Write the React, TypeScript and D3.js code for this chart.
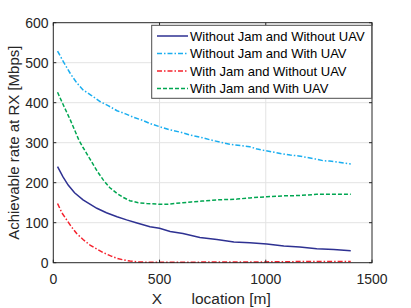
import React from "react";
import * as d3 from "d3";

const xTicks = [0, 500, 1000, 1500];
const yTicks = [0, 100, 200, 300, 400, 500, 600];

const seriesNames = [
  "Without Jam and Without UAV",
  "Without Jam and With UAV",
  "With Jam and Without UAV",
  "With Jam and With UAV",
];

const noJamNoUav: [number, number][] = [
  [20, 240], [45, 215], [70, 194], [100, 175], [140, 157], [205, 136], [250, 125], [300, 115],
  [345, 107], [390, 100], [455, 90], [500, 86], [550, 78], [610, 73], [690, 63], [770, 58],
  [850, 52], [925, 50], [1005, 47], [1085, 42], [1160, 39], [1240, 35], [1320, 33], [1400, 30],
];

const noJamUav: [number, number][] = [
  [20, 529], [50, 500], [80, 473], [110, 450], [140, 432], [180, 418], [220, 403], [260, 392],
  [300, 380], [340, 372], [380, 363], [420, 356], [455, 348], [500, 340], [550, 332], [600, 326],
  [645, 319], [690, 314], [740, 307], [790, 301], [830, 296], [880, 293], [925, 290], [960, 284],
  [1000, 280], [1040, 276], [1080, 272], [1115, 269], [1155, 267], [1195, 263], [1235, 259],
  [1270, 255], [1300, 254], [1335, 252], [1370, 249], [1400, 247],
];

const jamNoUav: [number, number][] = [
  [20, 148], [40, 125], [63, 107], [85, 90], [110, 73], [140, 58], [173, 44], [205, 34],
  [236, 25], [270, 17], [300, 11], [330, 7], [361, 4], [400, 2], [455, 1], [500, 1],
  [600, 1], [800, 2], [1000, 2], [1200, 3], [1400, 3],
];

const jamUav: [number, number][] = [
  [20, 426], [50, 391], [80, 357], [120, 307], [140, 288], [175, 257], [205, 230], [235, 207],
  [265, 188], [300, 173], [330, 163], [360, 155], [400, 150], [440, 148], [500, 146], [535, 146],
  [610, 150], [650, 152], [700, 154], [770, 157], [865, 159], [925, 162], [1005, 165],
  [1080, 167], [1160, 168], [1240, 171], [1320, 171], [1400, 171],
];

const seriesData = [noJamNoUav, noJamUav, jamNoUav, jamUav];
const seriesColors = ["#2e3192", "#1aaef0", "#f5222d", "#00a651"];
const seriesDash = ["none", "5,2,1.5,2", "5,2,1.5,2", "4,2"];

export default function App() {
  const left = 53.3, right = 372, top = 22.7, bottom = 262.7;
  const x = d3.scaleLinear().domain([0, 1500]).range([left, right]);
  const y = d3.scaleLinear().domain([0, 600]).range([bottom, top]);
  const line = d3.line<[number, number]>().x((d) => x(d[0])).y((d) => y(d[1]));
  const font = "'Liberation Sans', Arial, sans-serif";
  const axisColor = "#262626";

  const legX = 151.7, legY = 25.3, legW = 220, legH = 73;
  const rowY = [36, 53.5, 71, 88.5];

  return (
    <svg width={411} height={308} style={{ position: "absolute", left: 0, top: 0, background: "#fff" }} fontFamily={font}>
      <rect x={0} y={0} width={411} height={308} fill="#fff" />
      {xTicks.slice(1, -1).map((t) => (
        <line key={"gx" + t} x1={x(t)} x2={x(t)} y1={top} y2={bottom} stroke="#e3e3e3" strokeWidth={1} />
      ))}
      {yTicks.slice(1, -1).map((t) => (
        <line key={"gy" + t} x1={left} x2={right} y1={y(t)} y2={y(t)} stroke="#e3e3e3" strokeWidth={1} />
      ))}
      {seriesData.map((d, i) => (
        <path key={i} d={line(d) || ""} fill="none" stroke={seriesColors[i]} strokeWidth={1.5}
          strokeDasharray={seriesDash[i]} />
      ))}
      <rect x={left} y={top} width={right - left} height={bottom - top} fill="none" stroke={axisColor} strokeWidth={1} />
      {xTicks.map((t) => (
        <g key={"tx" + t}>
          <line x1={x(t)} x2={x(t)} y1={bottom} y2={bottom - 3} stroke={axisColor} />
          <line x1={x(t)} x2={x(t)} y1={top} y2={top + 3} stroke={axisColor} />
          <text x={x(t)} y={284} textAnchor="middle" fontSize={14} fill={axisColor}>{t}</text>
        </g>
      ))}
      {yTicks.map((t) => (
        <g key={"ty" + t}>
          <line x1={left} x2={left + 3} y1={y(t)} y2={y(t)} stroke={axisColor} />
          <line x1={right} x2={right - 3} y1={y(t)} y2={y(t)} stroke={axisColor} />
          <text x={48.5} y={y(t) + 5} textAnchor="end" fontSize={14} fill={axisColor}>{t}</text>
        </g>
      ))}
      <text transform={`translate(18.5,${(top + bottom) / 2}) rotate(-90)`} textAnchor="middle" fontSize={15} fill={axisColor}>
        Achievable rate at RX [Mbps]
      </text>
      <text x={157} y={304} textAnchor="middle" fontSize={15.5} fill={axisColor}>X</text>
      <text x={191.5} y={304} textAnchor="start" fontSize={15.5} fill={axisColor}>location [m]</text>
      <rect x={legX} y={legY} width={legW} height={legH} fill="#fff" stroke="#4d4d4d" strokeWidth={1} />
      {seriesNames.map((n, i) => (
        <g key={"lg" + i}>
          <line x1={157} x2={188} y1={rowY[i]} y2={rowY[i]} stroke={seriesColors[i]} strokeWidth={1.5}
            strokeDasharray={seriesDash[i]} />
          <text x={190} y={rowY[i] + 4.5} fontSize={13} fill="#000">{n}</text>
        </g>
      ))}
    </svg>
  );
}
